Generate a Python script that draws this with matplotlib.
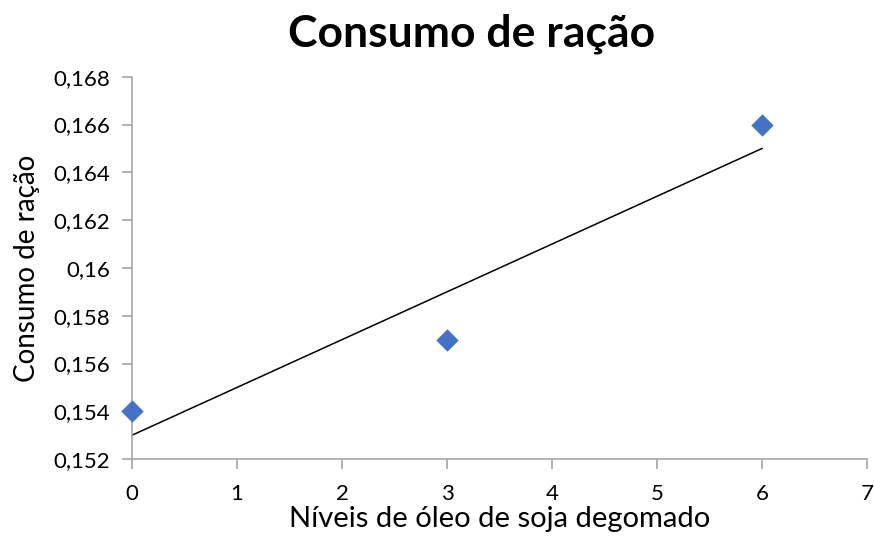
import matplotlib
matplotlib.use('Agg')
import matplotlib.pyplot as plt
import numpy as np

plt.rcParams['font.family'] = ['Lato', 'DejaVu Sans']

# data
niveis = [0, 3, 6]
consumo = [0.154, 0.157, 0.166]
y_ticks = [0.152, 0.154, 0.156, 0.158, 0.160, 0.162, 0.164, 0.166, 0.168]
y_tick_labels = ['0,152', '0,154', '0,156', '0,158', '0,16', '0,162', '0,164', '0,166', '0,168']
x_ticks = [0, 1, 2, 3, 4, 5, 6, 7]

fig = plt.figure(figsize=(8.74, 5.37), dpi=100)
ax = fig.add_axes([0.151, 0.145, 0.841, 0.712])

# linear trend line (Excel-style)
slope, intercept = np.polyfit(niveis, consumo, 1)
xs = np.array([min(niveis), max(niveis)])
ax.plot(xs, slope * xs + intercept, color='black', linewidth=1.1, zorder=2)

ax.scatter(niveis, consumo, marker='D', s=130, color='#4472C4', zorder=3,
           clip_on=False, linewidths=0)

ax.set_xlim(0, 7)
ax.set_ylim(0.152, 0.168)
ax.set_xticks(x_ticks)
ax.set_xticklabels([str(v) for v in x_ticks])
ax.set_yticks(y_ticks)
ax.set_yticklabels(y_tick_labels)

for side in ['top', 'right']:
    ax.spines[side].set_visible(False)
for side in ['left', 'bottom']:
    ax.spines[side].set_color('#A6A6A6')
    ax.spines[side].set_linewidth(1.2)
ax.tick_params(axis='both', colors='#A6A6A6', length=7, width=1.2,
               labelsize=16, labelcolor='black')
ax.tick_params(axis='y', pad=9)
ax.tick_params(axis='x', pad=11)

ax.set_xlabel('Níveis de óleo de soja degomado', fontsize=21, labelpad=1)
ax.set_ylabel('Consumo de ração', fontsize=20, labelpad=9)
fig.suptitle('Consumo de ração', fontsize=32, fontweight='bold', x=0.54, y=0.975)

fig.savefig('out.png', dpi=100)
